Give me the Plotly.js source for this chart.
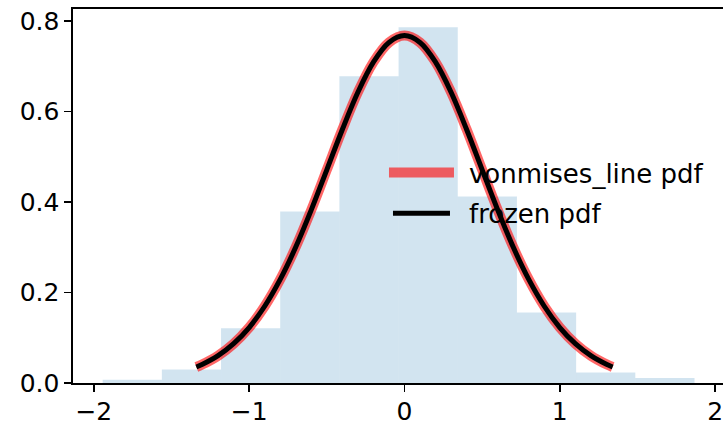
<!DOCTYPE html>
<html>
<head>
<meta charset="utf-8">
<script src="https://cdn.plot.ly/plotly-3.0.1.min.js"></script>
<style>
  html, body { margin: 0; padding: 0; overflow: hidden; background: #ffffff; }
  #chart { width: 740px; height: 425px; }
</style>
</head>
<body>
<div id="chart"></div>
<script>
// ---- data ----
// histogram bin edges (density histogram of random samples)
var binEdges = [-1.943, -1.562, -1.181, -0.800, -0.419, -0.038, 0.343, 0.724, 1.105, 1.486, 1.867];
// density height of each bin
var binDensity = [0.007, 0.030, 0.121, 0.379, 0.678, 0.786, 0.412, 0.156, 0.023, 0.011];

// pdf curve
var curveX = [-1.34, -1.3, -1.2, -1.1, -1.0, -0.9, -0.8, -0.7, -0.6, -0.5, -0.4, -0.3, -0.2, -0.1, 0.0,
              0.1, 0.2, 0.3, 0.4, 0.5, 0.6, 0.7, 0.8, 0.9, 1.0, 1.1, 1.2, 1.3, 1.34];
var pdfValues = [0.0354, 0.0413, 0.0603, 0.0868, 0.1226, 0.1696, 0.2289, 0.3004, 0.3825, 0.4711, 0.5603, 0.6425, 0.7091, 0.7526, 0.7678,
                 0.7526, 0.7091, 0.6425, 0.5603, 0.4711, 0.3825, 0.3004, 0.2289, 0.1696, 0.1226, 0.0868, 0.0603, 0.0413, 0.0354];
var frozenValues = pdfValues.slice();

var seriesNames = ["vonmises_line pdf", "frozen pdf"];
var xTickVals = [-2, -1, 0, 1, 2];
var yTickVals = [0.0, 0.2, 0.4, 0.6, 0.8];

// ---- build traces ----
var binCenters = [], binWidths = [];
for (var i = 0; i < binDensity.length; i++) {
  binCenters.push((binEdges[i] + binEdges[i + 1]) / 2);
  binWidths.push(binEdges[i + 1] - binEdges[i]);
}

var font = { family: "DejaVu Sans, sans-serif", size: 25, color: "#000000" };
var legendFont = { family: "DejaVu Sans, sans-serif", size: 26, color: "#000000" };

var traces = [
  {
    type: "scatter", mode: "lines", x: curveX, y: pdfValues, name: seriesNames[0],
    legendgroup: "g1",
    line: { color: "rgba(255,0,0,0.6)", width: 10, shape: "spline" },
    hoverinfo: "skip"
  },
  {
    type: "scatter", mode: "lines", x: curveX, y: frozenValues, name: seriesNames[1],
    legendgroup: "g2",
    line: { color: "#000000", width: 5, shape: "spline" },
    hoverinfo: "skip"
  },
  {
    type: "bar", x: binCenters, y: binDensity, width: binWidths,
    marker: { color: "rgba(31,119,180,0.2)", line: { width: 0 } },
    showlegend: false, hoverinfo: "skip"
  }
];

var axisCommon = {
  showgrid: false, zeroline: false, showline: true, mirror: true,
  linecolor: "#000000", linewidth: 1.6,
  ticks: "outside", ticklen: 7, tickwidth: 1.6, tickcolor: "#000000",
  tickfont: font, ticklabeloverflow: "allow"
};

var layout = {
  width: 740, height: 425,
  margin: { l: 73, r: 16, t: 9, b: 42, pad: 0 },
  paper_bgcolor: "#ffffff", plot_bgcolor: "#ffffff",
  font: font,
  showlegend: true,
  legend: {
    x: 0.4777, xanchor: "left", y: 0.6256, yanchor: "top",
    bgcolor: "rgba(0,0,0,0)", borderwidth: 0,
    font: legendFont, itemwidth: 75, tracegroupgap: 4
  },
  xaxis: Object.assign({}, axisCommon, {
    range: [-2.134, 2.057], tickmode: "array", tickvals: xTickVals,
    tickformat: "d", ticklabelstandoff: -2
  }),
  yaxis: Object.assign({}, axisCommon, {
    range: [0, 0.8265], tickmode: "array", tickvals: yTickVals,
    tickformat: ".1f"
  }),
  hovermode: false
};

Plotly.newPlot("chart", traces, layout, { staticPlot: true, displayModeBar: false }).then(function (gd) {
  // lengthen legend line swatches to matplotlib-like handles
  var paths = gd.querySelectorAll(".legend .legendlines path");
  if (paths.length >= 2) {
    paths[0].setAttribute("d", "M5,0h65");
    paths[1].setAttribute("d", "M9,0h57");
  }
});
</script>
</body>
</html>
